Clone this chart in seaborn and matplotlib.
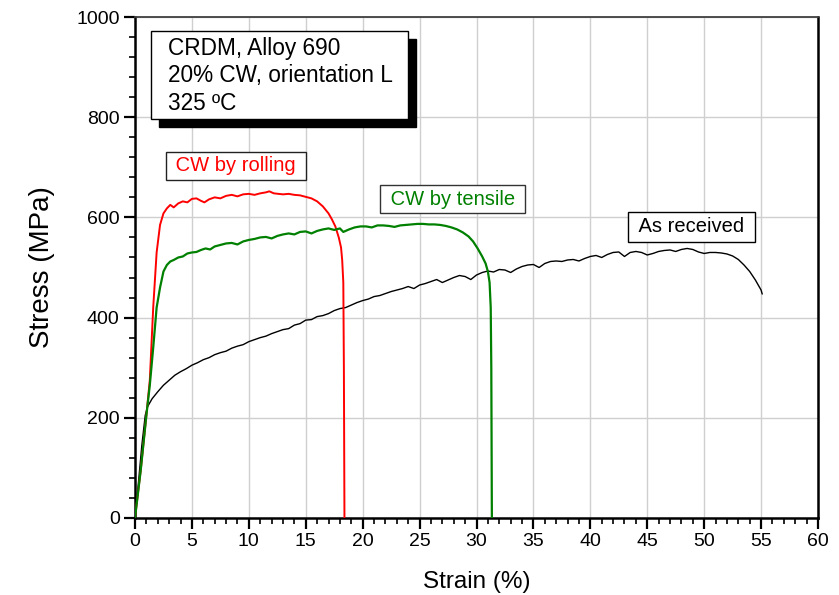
import matplotlib
matplotlib.use("Agg")
import matplotlib.pyplot as plt
import matplotlib.patches as mpatches
from matplotlib.ticker import MultipleLocator
import seaborn as sns
import pandas as pd

# ---------------- data ----------------
asrec_strain = [0, 0.3, 0.6, 0.9, 1.1, 1.5, 2.0, 2.5, 3.0, 3.5, 4.0, 4.5, 5.0, 5.5, 6.0, 6.5,
                7.0, 7.5, 8.0, 8.5, 9.0, 9.5, 10.0, 10.5, 11.0, 11.5, 12.0, 12.5, 13.0, 13.5,
                14.0, 14.5, 15.0, 15.5, 16.0, 16.5, 17.0, 17.5, 18.0, 18.5, 19.0, 19.5, 20.0,
                20.5, 21.0, 21.5, 22.0, 22.5, 23.0, 23.5, 24.0, 24.5, 25.0, 25.5, 26.0, 26.5,
                27.0, 27.5, 28.0, 28.5, 29.0, 29.5, 30.0, 30.5, 31.0, 31.5, 32.0, 32.5, 33.0,
                33.5, 34.0, 34.5, 35.0, 35.5, 36.0, 36.5, 37.0, 37.5, 38.0, 38.5, 39.0, 39.5,
                40.0, 40.5, 41.0, 41.5, 42.0, 42.5, 43.0, 43.5, 44.0, 44.5, 45.0, 45.5, 46.0,
                46.5, 47.0, 47.5, 48.0, 48.5, 49.0, 49.5, 50.0, 50.5, 51.0, 51.5, 52.0, 52.5,
                53.0, 53.5, 54.0, 54.5, 55.0, 55.1]
asrec_stress = [0, 70, 145, 205, 222, 238, 252, 265, 275, 285, 292, 298, 305, 310, 316, 320,
                326, 330, 333, 339, 343, 346, 352, 356, 360, 363, 368, 372, 376, 378,
                385, 388, 395, 396, 402, 404, 408, 414, 418, 420, 425, 430, 434,
                437, 442, 444, 448, 452, 455, 458, 462, 458, 465, 468, 472, 476,
                470, 475, 480, 484, 482, 476, 485, 490, 493, 491, 496, 495, 490,
                497, 502, 505, 506, 500, 508, 512, 513, 512, 515, 516, 513, 518,
                522, 524, 520, 526, 530, 531, 522, 530, 532, 530, 525, 528, 532,
                534, 535, 532, 536, 538, 536, 531, 528, 530, 530, 529, 527, 523,
                516, 505, 492, 475, 455, 447]

rolling_strain = [0, 0.5, 1.0, 1.3, 1.6, 1.9, 2.2, 2.5, 2.8, 3.1, 3.4, 3.8, 4.2, 4.6, 5.0,
                  5.4, 5.8, 6.1, 6.5, 7.0, 7.5, 8.0, 8.5, 9.0, 9.5, 10.0, 10.5, 11.0, 11.5,
                  11.8, 12.2, 12.6, 13.0, 13.5, 14.0, 14.5, 15.0, 15.5, 16.0, 16.5, 17.0,
                  17.3, 17.6, 17.9, 18.1, 18.2, 18.3, 18.35, 18.4]
rolling_stress = [0, 95, 205, 275, 420, 530, 585, 608, 618, 625, 620, 628, 632, 630, 637,
                  638, 633, 630, 636, 640, 638, 643, 645, 642, 646, 647, 645, 648, 650,
                  652, 648, 647, 646, 647, 645, 644, 641, 638, 632, 622, 608,
                  596, 582, 560, 540, 515, 470, 300, 0]

tensile_strain = [0, 0.5, 1.0, 1.3, 1.6, 1.9, 2.2, 2.5, 2.8, 3.1, 3.4, 3.8, 4.2, 4.6, 5.0,
                  5.4, 5.8, 6.2, 6.6, 7.0, 7.5, 8.0, 8.5, 9.0, 9.5, 10.0, 10.5, 11.0, 11.5,
                  12.0, 12.5, 13.0, 13.5, 14.0, 14.5, 15.0, 15.5, 16.0, 16.5, 17.0, 17.5,
                  18.0, 18.3, 18.8, 19.3, 19.8, 20.3, 20.8, 21.3, 21.8, 22.3, 22.8, 23.3,
                  23.8, 24.3, 24.8, 25.3, 25.8, 26.3, 26.8, 27.3, 27.8, 28.3, 28.8, 29.3,
                  29.7, 30.1, 30.5, 30.8, 31.0, 31.15, 31.25, 31.3, 31.35]
tensile_stress = [0, 95, 205, 265, 340, 420, 460, 492, 505, 512, 515, 520, 522, 528, 530,
                  531, 535, 538, 536, 542, 545, 548, 549, 546, 552, 555, 557, 560, 561,
                  558, 563, 566, 568, 566, 571, 572, 568, 573, 576, 578, 575,
                  578, 571, 576, 580, 582, 582, 580, 584, 584, 583, 581, 584,
                  585, 586, 587, 587, 586, 586, 585, 583, 580, 576, 570, 562,
                  552, 538, 522, 508, 492, 470, 420, 300, 0]

x_ticks = [0, 5, 10, 15, 20, 25, 30, 35, 40, 45, 50, 55, 60]
y_ticks = [0, 200, 400, 600, 800, 1000]

# ---------------- style ----------------
sns.set_style("white")
plt.rcParams['font.family'] = ['Liberation Sans', 'DejaVu Sans']
plt.rcParams.update({"text.color": "black", "axes.labelcolor": "black",
                     "xtick.color": "black", "ytick.color": "black"})

fig = plt.figure(figsize=(8.39, 5.95), dpi=100)
ax = fig.add_axes([135/839, 1-518/595, (818-135)/839, (518-17)/595])

series = [
    ("As received", asrec_strain, asrec_stress, "black", 1.0),
    ("CW by rolling", rolling_strain, rolling_stress, "#ff0000", 1.4),
    ("CW by tensile", tensile_strain, tensile_stress, "#008000", 1.6),
]
for name, xs, ys, col, lw in series:
    df = pd.DataFrame({"strain": xs, "stress": ys})
    sns.lineplot(data=df, x="strain", y="stress", sort=False, estimator=None,
                 color=col, lw=lw, ax=ax, zorder=3)

ax.set_xlim(0, 60)
ax.set_ylim(0, 1000)
ax.set_xticks(x_ticks)
ax.set_yticks(y_ticks)
ax.xaxis.set_minor_locator(MultipleLocator(1))
ax.yaxis.set_minor_locator(MultipleLocator(40))
ax.tick_params(which="major", direction="out", length=8, width=1.6, labelsize=14,
               colors="black", bottom=True, left=True, pad=3)
ax.tick_params(which="minor", direction="out", length=4.5, width=1.2,
               bottom=True, left=True)
ax.grid(True, which="major", color="#cfcfcf", lw=1.0, zorder=0)

for s in ["left", "bottom", "right"]:
    ax.spines[s].set_color("black")
    ax.spines[s].set_linewidth(1.8)
ax.spines["top"].set_color("#404040")
ax.spines["top"].set_linewidth(1.3)

ax.set_xlabel("Strain (%)", fontsize=17.5, labelpad=15, color="black")
ax.set_ylabel("Stress (MPa)", fontsize=20, labelpad=15, color="black")

# info box with shadow (figure pixel layout)
W, H = 839, 595
shadow = mpatches.Rectangle((159/W, 1-127/H), (416-159)/W, (127-39)/H,
                            transform=fig.transFigure, facecolor="black",
                            edgecolor="black", zorder=5)
box = mpatches.Rectangle((151/W, 1-119/H), (408-151)/W, (119-31)/H,
                         transform=fig.transFigure, facecolor="white",
                         edgecolor="black", lw=1.0, zorder=6)
fig.patches.extend([shadow, box])
for i, line in enumerate(["CRDM, Alloy 690", "20% CW, orientation L", "325 ºC"]):
    fig.text(168/W, 1-(48+27.5*i)/H, line, fontsize=16.3, va="center", ha="left",
             zorder=7, color="black")

label_kw = dict(fontsize=14.5, ha="center", va="center", zorder=6)
ax.text(8.84, 703, " CW by rolling ", color="#ff0000",
        bbox=dict(boxstyle="square,pad=0.22", fc="white", ec="#222222", lw=1.0), **label_kw)
ax.text(27.9, 636, " CW by tensile ", color="#008000",
        bbox=dict(boxstyle="square,pad=0.22", fc="white", ec="#333333", lw=1.0), **label_kw)
ax.text(48.9, 581, " As received ", color="black",
        bbox=dict(boxstyle="square,pad=0.28", fc="white", ec="black", lw=1.0), **label_kw)

fig.savefig("out.png", dpi=100)
